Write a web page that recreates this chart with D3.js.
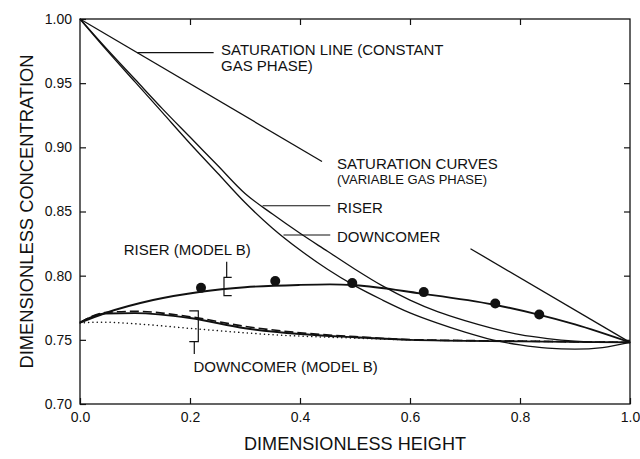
<!DOCTYPE html>
<html>
<head>
<meta charset="utf-8">
<script src="https://cdn.jsdelivr.net/npm/d3@7"></script>
<style>
  html, body { margin: 0; padding: 0; background: #fff; }
  svg { display: block; font-family: "Liberation Sans", Arial, Helvetica, sans-serif; }
</style>
</head>
<body>
<svg id="chart" width="640" height="459"></svg>
<script>
// ---- data -------------------------------------------------------------
const xTicks = [0.0, 0.2, 0.4, 0.6, 0.8, 1.0];
const yTicks = [0.70, 0.75, 0.80, 0.85, 0.90, 0.95, 1.00];

// saturation line (constant gas phase), drawn in two pieces around its label
const satLineX1 = [0.0, 0.44];
const satLineC1 = [1.0, 0.889];
const satLineX2 = [0.71, 1.0];
const satLineC2 = [0.821, 0.748];

// saturation curves (variable gas phase)
const satX = [0, 0.05, 0.1, 0.15, 0.2, 0.25, 0.3, 0.35, 0.4, 0.45, 0.5,
              0.55, 0.6, 0.65, 0.7, 0.75, 0.8, 0.85, 0.9, 0.95, 1.0];
const satRiser = [1.0, 0.976, 0.953, 0.930, 0.908, 0.886, 0.864, 0.848, 0.833, 0.819, 0.805,
                  0.792, 0.781, 0.772, 0.765, 0.759, 0.754, 0.751, 0.749, 0.748, 0.748];
const satDowncomer = [1.0, 0.975, 0.951, 0.927, 0.903, 0.880, 0.857, 0.837, 0.820, 0.805, 0.792,
                      0.781, 0.771, 0.763, 0.756, 0.750, 0.746, 0.7435, 0.7428, 0.744, 0.748];

// model B profiles
const riserBX = [0, 0.045, 0.133, 0.22, 0.3, 0.4, 0.4545, 0.5, 0.618, 0.7515, 0.83, 0.9, 1.0];
const riserBC = [0.7634, 0.7707, 0.781, 0.7875, 0.791, 0.7928, 0.7932, 0.7925, 0.7862, 0.7775, 0.770, 0.762, 0.748];

const downBX = [0, 0.045, 0.1, 0.2, 0.3, 0.4, 0.5, 0.6, 0.8, 1.0];
const downBSolid  = [0.7634, 0.7705, 0.7708, 0.767, 0.759, 0.7545, 0.752, 0.750, 0.7488, 0.748];
const downBDashed = [0.7634, 0.7712, 0.7722, 0.768, 0.7605, 0.7555, 0.7525, 0.7502, 0.749, 0.748];
const downBDotX = [0, 0.036, 0.1, 0.212, 0.35, 0.509, 0.6, 0.8, 1.0];
const downBDotted = [0.7632, 0.7638, 0.7625, 0.7585, 0.754, 0.7512, 0.750, 0.749, 0.748];

// measured riser points
const measX = [0.22, 0.355, 0.495, 0.625, 0.755, 0.835];
const measC = [0.7905, 0.7958, 0.7942, 0.7872, 0.7783, 0.7698];

// ---- layout -----------------------------------------------------------
const svg = d3.select("#chart");
const plotL = 80, plotR = 630, plotT = 19, plotB = 404;
const x = d3.scaleLinear().domain([0, 1]).range([plotL, plotR]);
const y = d3.scaleLinear().domain([0.70, 1.00]).range([plotB, plotT]);
const ink = "#111";

const zip = (xs, cs) => xs.map((v, i) => [v, cs[i]]);
const line = d3.line().x(d => x(d[0])).y(d => y(d[1])).curve(d3.curveMonotoneX);
const straight = d3.line().x(d => x(d[0])).y(d => y(d[1]));

// ---- axes -------------------------------------------------------------
const gx = svg.append("g").attr("transform", `translate(0,${plotB})`)
  .call(d3.axisBottom(x).tickValues(xTicks).tickFormat(d3.format(".1f"))
        .tickSizeInner(-6).tickSizeOuter(0).tickPadding(8));
const gy = svg.append("g").attr("transform", `translate(${plotL},0)`)
  .call(d3.axisLeft(y).tickValues(yTicks).tickFormat(d3.format(".2f"))
        .tickSizeInner(-6).tickSizeOuter(0).tickPadding(8));
const gt = svg.append("g").attr("transform", `translate(0,${plotT})`)
  .call(d3.axisTop(x).tickValues(xTicks.slice(1, -1)).tickFormat("")
        .tickSizeInner(-6).tickSizeOuter(0));
const gr = svg.append("g").attr("transform", `translate(${plotR},0)`)
  .call(d3.axisRight(y).tickValues(yTicks.slice(1, -1)).tickFormat("")
        .tickSizeInner(-6).tickSizeOuter(0));

[gx, gy, gt, gr].forEach(g => {
  g.select(".domain").remove();
  g.selectAll(".tick line").attr("stroke", ink).attr("stroke-width", 1.2);
  g.selectAll(".tick text").attr("fill", ink).attr("font-size", 14)
    .attr("font-family", "'Liberation Sans', Arial, sans-serif");
});

svg.append("rect")
  .attr("x", plotL).attr("y", plotT)
  .attr("width", plotR - plotL).attr("height", plotB - plotT)
  .attr("fill", "none").attr("stroke", ink).attr("stroke-width", 1.3);

svg.append("text")
  .attr("x", (plotL + plotR) / 2).attr("y", 450)
  .attr("text-anchor", "middle").attr("font-size", 19).attr("fill", ink)
  .attr("textLength", 222).attr("lengthAdjust", "spacingAndGlyphs")
  .text("DIMENSIONLESS HEIGHT");

svg.append("text")
  .attr("transform", `translate(33,${(55 + 368) / 2}) rotate(-90)`)
  .attr("text-anchor", "middle").attr("font-size", 19).attr("fill", ink)
  .attr("textLength", 314).attr("lengthAdjust", "spacingAndGlyphs")
  .text("DIMENSIONLESS CONCENTRATION");

// ---- curves -----------------------------------------------------------
const plot = svg.append("g").attr("fill", "none").attr("stroke", ink);

plot.append("path").attr("d", straight(zip(satLineX1, satLineC1))).attr("stroke-width", 1.3);
plot.append("path").attr("d", straight(zip(satLineX2, satLineC2))).attr("stroke-width", 1.3);
plot.append("path").attr("d", line(zip(satX, satRiser))).attr("stroke-width", 1.3);
plot.append("path").attr("d", line(zip(satX, satDowncomer))).attr("stroke-width", 1.3);

plot.append("path").attr("d", line(zip(downBDotX, downBDotted)))
  .attr("stroke-width", 1.5).attr("stroke-dasharray", "0.1,4.2").attr("stroke-linecap", "round");
plot.append("path").attr("d", line(zip(downBX, downBDashed)))
  .attr("stroke-width", 1.6).attr("stroke-dasharray", "9,4");
plot.append("path").attr("d", line(zip(downBX, downBSolid))).attr("stroke-width", 1.9);
plot.append("path").attr("d", line(zip(riserBX, riserBC))).attr("stroke-width", 1.9);

svg.append("g").selectAll("circle")
  .data(zip(measX, measC)).join("circle")
  .attr("cx", d => x(d[0])).attr("cy", d => y(d[1])).attr("r", 5).attr("fill", ink);

// ---- annotations ------------------------------------------------------
const notes = svg.append("g").attr("fill", ink);
const label = (xv, cv, txt, size) => notes.append("text")
  .attr("x", x(xv)).attr("y", y(cv)).attr("font-size", size).text(txt);

label(0.2564, 0.9719, "SATURATION LINE (CONSTANT", 15);
label(0.2564, 0.9591, "GAS PHASE)", 15);
label(0.4673, 0.8829, "SATURATION CURVES", 15);
label(0.4673, 0.8714, "(VARIABLE GAS PHASE)", 13);
label(0.4673, 0.8486, "RISER", 15);
label(0.4673, 0.8266, "DOWNCOMER", 15);
label(0.0796, 0.8161, "RISER (MODEL B)", 15);
label(0.2062, 0.7249, "DOWNCOMER (MODEL B)", 15);

const guides = svg.append("g").attr("fill", "none").attr("stroke", ink).attr("stroke-width", 1.2);
// leader lines
[[0.104, 0.243, 0.9738], [0.332, 0.455, 0.8545], [0.37, 0.455, 0.8317]].forEach(([a, b, c]) => {
  guides.append("path").attr("d", straight([[a, c], [b, c]]));
});
// riser (model B) bracket
guides.append("path").attr("d", straight([[0.2667, 0.8109], [0.2667, 0.7987]]));
guides.append("path").attr("d", straight([[0.2758, 0.7987], [0.2618, 0.7987], [0.2618, 0.7844], [0.2758, 0.7844]]));
// downcomer (model B) bracket
guides.append("path").attr("d", straight([[0.1987, 0.7725], [0.2151, 0.7725], [0.2151, 0.7486], [0.1987, 0.7486]]));
guides.append("path").attr("d", straight([[0.2078, 0.7486], [0.2078, 0.739]]));
</script>
</body>
</html>
